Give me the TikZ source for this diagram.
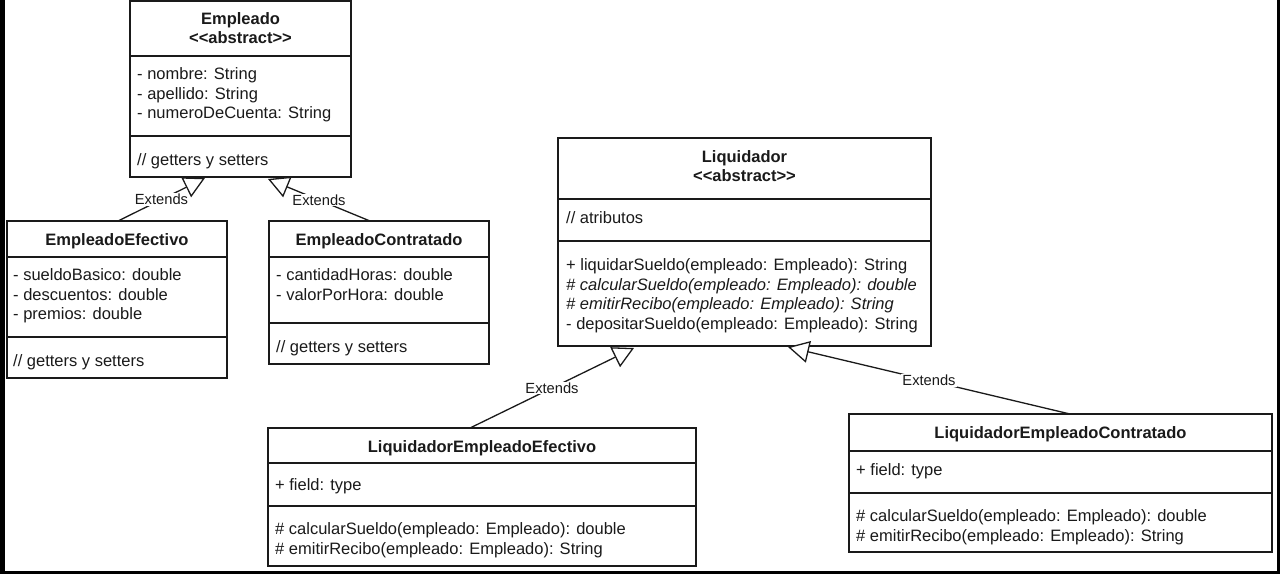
\documentclass[tikz,border=0pt]{standalone}
\usepackage{fontspec}
\setmainfont{Liberation Sans}
\usetikzlibrary{arrows.meta}
\definecolor{ink}{HTML}{1A1A1A}
\begin{document}
\begin{tikzpicture}[x=1pt,y=-1pt,
  box/.style={draw=ink, line width=1.3pt, fill=white, inner sep=0pt, outer sep=0pt, anchor=north west},
  txt/.style={anchor=base west, inner sep=0pt, text=ink, font=\fontsize{16.5}{19.5}\selectfont},
  ttl/.style={anchor=base, inner sep=0pt, text=ink, font=\fontsize{16.5}{19.5}\selectfont\bfseries},
  sep/.style={draw=ink, line width=1.3pt},
  ext/.style={draw=ink, line width=1.3pt, -{Triangle[length=21pt, width=22pt, fill=white]}},
  lbl/.style={fill=white, inner sep=1pt, text=ink, font=\fontsize{14.7}{17}\selectfont}]
\useasboundingbox (0,0) rectangle (1280,574);
\fill[white] (0,0) rectangle (1280,574);
\fill[black] (0,0) rectangle (5,574);
\fill[black] (1277,0) rectangle (1280,574);
\fill[black] (0,571) rectangle (1280,574);

% Empleado
\node[box, minimum width=221pt, minimum height=176pt] (emp) at (130,1) {};
\draw[sep] ([yshift=-55pt]emp.north west) -- ([yshift=-55pt]emp.north east);
\draw[sep] ([yshift=-135pt]emp.north west) -- ([yshift=-135pt]emp.north east);
\node[ttl] (emp-t1) at (240.5,24.5) {Empleado};
\node[ttl] (emp-t2) at (240.5,43.5) {<{}<abstract>{}>};
\node[txt] (emp-a1) at (137,79.5) {- nombre: String};
\node[txt] (emp-a2) at (137,99) {- apellido: String};
\node[txt] (emp-a3) at (137,118.5) {- numeroDeCuenta: String};
\node[txt] (emp-m1) at (137,165.5) {// getters y setters};

% EmpleadoEfectivo
\node[box, minimum width=220pt, minimum height=157pt] (ee) at (7,221) {};
\draw[sep] ([yshift=-36pt]ee.north west) -- ([yshift=-36pt]ee.north east);
\draw[sep] ([yshift=-116pt]ee.north west) -- ([yshift=-116pt]ee.north east);
\node[ttl] (ee-t) at (117,245.5) {EmpleadoEfectivo};
\node[txt] (ee-a1) at (13,280.5) {- sueldoBasico: double};
\node[txt] (ee-a2) at (13,300) {- descuentos: double};
\node[txt] (ee-a3) at (13,319.5) {- premios: double};
\node[txt] (ee-m1) at (13,366.5) {// getters y setters};

% EmpleadoContratado
\node[box, minimum width=220pt, minimum height=143pt] (ec) at (269,221) {};
\draw[sep] ([yshift=-36pt]ec.north west) -- ([yshift=-36pt]ec.north east);
\draw[sep] ([yshift=-102pt]ec.north west) -- ([yshift=-102pt]ec.north east);
\node[ttl] (ec-t) at (379,245.5) {EmpleadoContratado};
\node[txt] (ec-a1) at (276,280.5) {- cantidadHoras: double};
\node[txt] (ec-a2) at (276,300) {- valorPorHora: double};
\node[txt] (ec-m1) at (276,352.5) {// getters y setters};

% Liquidador
\node[box, minimum width=373pt, minimum height=208pt] (liq) at (558,138) {};
\draw[sep] ([yshift=-61pt]liq.north west) -- ([yshift=-61pt]liq.north east);
\draw[sep] ([yshift=-103pt]liq.north west) -- ([yshift=-103pt]liq.north east);
\node[ttl] (liq-t1) at (744.5,162.5) {Liquidador};
\node[ttl] (liq-t2) at (744.5,181.5) {<{}<abstract>{}>};
\node[txt] (liq-a1) at (566,223.5) {// atributos};
\node[txt] (liq-m1) at (566,270.5) {+ liquidarSueldo(empleado: Empleado): String};
\node[txt] (liq-m2) at (566,290) {\itshape \# calcularSueldo(empleado: Empleado): double};
\node[txt] (liq-m3) at (566,309.5) {\itshape \# emitirRecibo(empleado: Empleado): String};
\node[txt] (liq-m4) at (566,329) {- depositarSueldo(empleado: Empleado): String};

% LiquidadorEmpleadoEfectivo
\node[box, minimum width=428pt, minimum height=138pt] (lee) at (268,428) {};
\draw[sep] ([yshift=-35pt]lee.north west) -- ([yshift=-35pt]lee.north east);
\draw[sep] ([yshift=-78pt]lee.north west) -- ([yshift=-78pt]lee.north east);
\node[ttl] (lee-t) at (482,452.5) {LiquidadorEmpleadoEfectivo};
\node[txt] (lee-a1) at (275,490.5) {+ field: type};
\node[txt] (lee-m1) at (275,534.5) {\# calcularSueldo(empleado: Empleado): double};
\node[txt] (lee-m2) at (275,554) {\# emitirRecibo(empleado: Empleado): String};

% LiquidadorEmpleadoContratado
\node[box, minimum width=423pt, minimum height=138pt] (lec) at (849,414) {};
\draw[sep] ([yshift=-37pt]lec.north west) -- ([yshift=-37pt]lec.north east);
\draw[sep] ([yshift=-79pt]lec.north west) -- ([yshift=-79pt]lec.north east);
\node[ttl] (lec-t) at (1060.5,438.5) {LiquidadorEmpleadoContratado};
\node[txt] (lec-a1) at (856,475.5) {+ field: type};
\node[txt] (lec-m1) at (856,521.5) {\# calcularSueldo(empleado: Empleado): double};
\node[txt] (lec-m2) at (856,541) {\# emitirRecibo(empleado: Empleado): String};

% connector end points
\coordinate (ee-top) at ([xshift=111pt]ee.north west);
\coordinate (emp-b1) at ([xshift=75pt,yshift=-1pt]emp.south west);
\coordinate (ec-top) at ([xshift=101pt]ec.north west);
\coordinate (emp-b2) at ([xshift=138pt,yshift=-2pt]emp.south west);
\coordinate (lee-top) at ([xshift=202pt]lee.north west);
\coordinate (liq-b1) at ([xshift=76pt,yshift=-2pt]liq.south west);
\coordinate (lec-top) at ([xshift=221pt]lec.north west);
\coordinate (liq-b2) at ([xshift=230pt,yshift=-1pt]liq.south west);

\draw[ext] (ee-top) -- node[lbl] {Extends} (emp-b1);
\draw[ext] (ec-top) -- node[lbl] {Extends} (emp-b2);
\draw[ext] (lee-top) -- node[lbl] {Extends} (liq-b1);
\draw[ext] (lec-top) -- node[lbl] {Extends} (liq-b2);
\end{tikzpicture}
\end{document}
